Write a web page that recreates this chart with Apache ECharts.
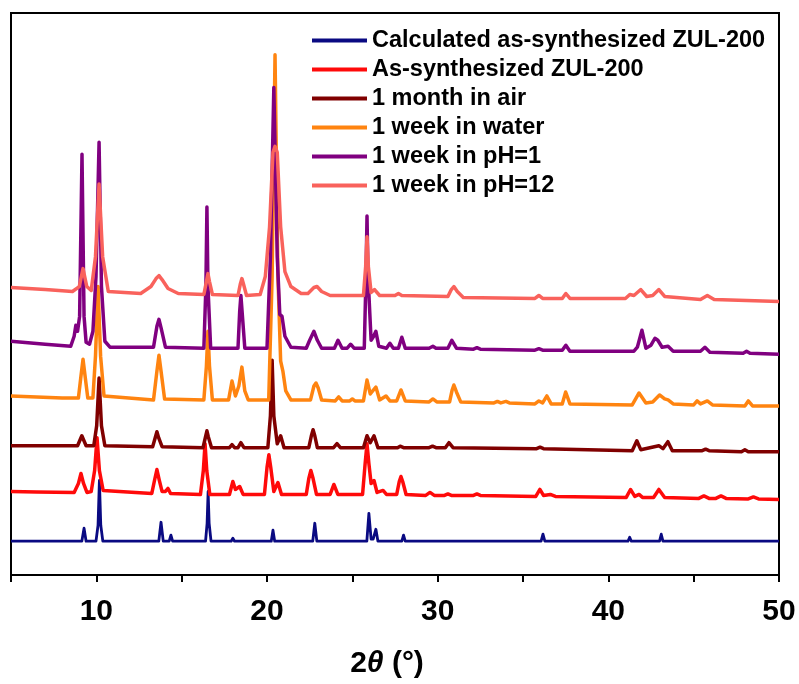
<!DOCTYPE html>
<html>
<head>
<meta charset="utf-8">
<title>PXRD patterns of ZUL-200</title>
<script src="https://cdn.jsdelivr.net/npm/echarts@6/dist/echarts.min.js"></script>
<style>
  html, body { margin: 0; padding: 0; background: #fff; }
  #chart { width: 799px; height: 684px; }
</style>
</head>
<body>
<div id="chart"></div>
<script>
// Series names, in stacking order (bottom to top)
const seriesNames = [
  'Calculated as-synthesized ZUL-200',
  'As-synthesized ZUL-200',
  '1 month in air',
  '1 week in water',
  '1 week in pH=1',
  '1 week in pH=12'
];

// Tick labels shown on the 2θ axis
const xTickLabels = [10, 20, 30, 40, 50];

// Each pattern: [2θ (deg), offset intensity (a.u.)]
const calculated = [
  [5,34],[9.15,34],[9.28,47],[9.4,34],
  [9.98,34],[10.1,50],[10.18,95],[10.26,50],[10.38,34],
  [13.66,34],[13.79,53],[13.92,34],
  [14.27,34],[14.37,40],[14.47,34],
  [16.4,34],[16.49,52],[16.55,84],[16.61,52],[16.72,34],
  [17.9,34],[18.0,37],[18.1,34],
  [18.5,34],[18.6,36],[18.7,34],
  [20.25,34],[20.35,45],[20.45,34],
  [21.0,34],[21.1,36],[21.2,34],
  [22.68,34],[22.8,52],[22.92,34],
  [24.9,34],[25.0,36],[25.1,34],
  [25.85,34],[25.97,62],[26.1,36],[26.22,36],[26.38,46],[26.5,34],
  [27.3,34],[27.4,36],[27.5,34],
  [27.9,34],[28.0,40],[28.1,34],
  [29.7,34],[29.8,35.5],[29.9,34],
  [33.25,34],[33.35,36],[33.45,34],
  [36.06,34],[36.17,41],[36.28,34],
  [36.6,34],[36.7,35.5],[36.8,34],
  [41.15,34],[41.25,38],[41.35,34],
  [41.8,34],[41.9,36],[42.0,34],
  [42.5,34],[42.6,35.5],[42.7,34],
  [43.0,34],[43.1,41],[43.2,34],
  [45.0,34],[45.1,36],[45.2,34],
  [46.5,34],[46.6,36],[46.7,34],
  [48.1,34],[48.2,36],[48.3,34],
  [50,34]
];

const asSynthesized = [
  [5,84],[6.5,83.5],[8.7,83],[8.95,92],[9.1,102],[9.25,92],[9.45,83],
  [9.7,84],[9.9,105],[10.04,138],[10.18,105],[10.4,85],
  [13.25,82],[13.42,96],[13.55,106],[13.68,96],[13.85,84],[14.05,84],[14.2,87],[14.35,82],
  [16.1,81],[16.27,105],[16.37,132],[16.47,105],[16.65,81],
  [17.8,81],[18.0,94],[18.15,86],[18.4,89],[18.6,81],
  [19.85,81],[20.0,108],[20.11,121],[20.22,108],[20.4,84],[20.64,93],[20.85,81],
  [22.3,81],[22.45,97],[22.57,105],[22.7,97],[22.9,81],
  [23.7,81],[23.92,91],[24.15,81],
  [25.6,81],[25.75,112],[25.86,132],[25.97,112],[26.1,92],[26.27,95],[26.45,83],[26.8,85],[27.0,81],
  [27.6,81],[27.75,94],[27.85,99],[27.95,94],[28.15,81],
  [29.3,80],[29.55,83],[29.8,80],
  [30.4,80],[30.6,81.5],[30.8,80],
  [32.1,80],[32.3,81.5],[32.5,80],
  [35.75,79],[35.99,86],[36.2,80],[36.6,81],[36.9,79],
  [41.05,78],[41.3,86],[41.55,79],[41.8,81],[42.0,78],
  [42.65,78],[42.96,86],[43.3,78],
  [45.3,77],[45.6,79.5],[45.9,77],
  [46.3,77],[46.6,79.5],[46.9,77],
  [48.2,76.5],[48.5,78.5],[48.8,76.5],
  [50,76]
];

const monthInAir = [
  [5,130],[8.9,130],[9.15,140],[9.4,130],
  [9.85,130],[10.02,150],[10.16,198],[10.3,150],[10.5,130],
  [13.3,129],[13.45,138],[13.55,144],[13.65,138],[13.85,129],
  [16.25,128],[16.4,139],[16.48,145],[16.56,139],[16.75,128],
  [17.8,128],[17.95,131],[18.1,128],
  [18.3,128],[18.47,133],[18.65,128],
  [20.05,128],[20.2,160],[20.3,216],[20.4,160],[20.6,132],[20.8,140],[21.0,128],
  [22.45,128],[22.6,140],[22.7,146],[22.8,140],[22.95,128],
  [23.9,128],[24.1,132],[24.3,128],
  [25.65,128],[25.86,140],[26.05,133],[26.27,140],[26.5,128],
  [26.9,128],[27.0,129.5],[27.2,128],
  [27.65,128],[27.8,129.5],[28.0,128],
  [29.5,128],[29.7,129.5],[29.9,128],
  [30.45,128],[30.66,133],[30.9,128],
  [35.8,127],[36.0,128.5],[36.2,127],
  [41.4,125],[41.67,135],[41.9,126],[42.96,130],[43.2,127],[43.49,134],[43.75,125],
  [45.5,125],[45.7,126.5],[45.9,125],
  [47.8,124],[48.0,126],[48.2,124],
  [50,124]
];

const weekInWater = [
  [5,180],[8.0,178],[8.95,178],[9.1,200],[9.22,217],[9.34,200],[9.5,178],
  [9.8,178],[9.95,220],[10.1,290],[10.25,220],[10.45,180],
  [13.35,176],[13.55,205],[13.67,221],[13.79,205],[14.0,177],
  [16.3,176],[16.45,210],[16.54,245],[16.63,210],[16.8,176],
  [17.75,176],[17.95,195],[18.15,180],[18.35,190],[18.53,209],[18.7,185],[18.9,176],
  [20.1,176],[20.3,300],[20.47,523],[20.64,300],[20.8,215],[20.93,205],[21.1,185],[21.4,176],
  [22.55,176],[22.75,190],[22.87,193],[23.0,188],[23.2,176],
  [24.0,175],[24.2,179],[24.4,175],
  [24.85,175],[25.0,177],[25.15,175],
  [25.65,175],[25.86,196],[26.05,182],[26.38,189],[26.6,176],[26.97,180],[27.2,175],
  [27.6,175],[27.85,186],[28.1,175],
  [29.5,174],[29.72,177],[29.95,174],
  [30.7,174],[30.85,186],[30.95,191],[31.1,184],[31.35,174],
  [33.3,173],[33.5,174.5],[33.7,173],[34.0,174.5],[34.2,173],
  [35.7,172],[35.93,175],[36.15,173],[36.4,180],[36.65,172],
  [37.3,172],[37.5,184],[37.75,172],
  [41.4,171],[41.8,183],[42.2,173],[42.6,174],[43.0,181],[43.3,177],[43.5,176],[43.8,172],
  [45.0,171],[45.2,175],[45.4,172],[45.8,175],[46.1,171],
  [48.0,170],[48.2,175],[48.45,170],
  [50,170]
];

const weekInPH1 = [
  [5,235],[7,232],[8.5,230],[8.7,240],[8.8,251],[8.9,245],[9.02,260],[9.16,423],[9.28,260],[9.4,234],
  [9.6,232],[9.8,245],[9.98,300],[10.16,435],[10.3,290],[10.5,235],[10.8,229],
  [13.35,229],[13.55,250],[13.67,257],[13.8,248],[14.05,229],
  [16.3,228],[16.42,290],[16.48,370],[16.54,290],[16.7,228],
  [18.3,228],[18.4,265],[18.47,281],[18.54,265],[18.7,228],
  [20.0,228],[20.2,320],[20.4,490],[20.6,320],[20.75,262],[20.88,260],[21.05,240],[21.4,229],
  [22.3,228],[22.5,236],[22.75,245],[22.95,236],[23.2,228],
  [23.95,228],[24.16,236],[24.4,228],
  [24.7,228],[24.9,232],[25.1,228],
  [25.7,228],[25.8,300],[25.86,361],[25.92,300],[26.1,236],[26.25,240],[26.38,245],[26.55,230],
  [27.0,228],[27.2,233],[27.4,228],
  [27.7,228],[27.9,239],[28.1,228],
  [29.5,228],[29.72,230],[29.9,228],
  [30.6,228],[30.83,236],[31.1,228],
  [32.1,227],[32.3,228.5],[32.5,227],
  [35.7,226],[35.93,227.5],[36.15,226],
  [37.3,226],[37.51,231],[37.75,225],
  [41.5,225],[41.7,229],[41.97,246],[42.2,228],[42.5,231],[42.73,238],[42.9,236],[43.15,229],[43.5,230],[43.8,225],
  [45.4,225],[45.66,229],[45.95,224],
  [47.9,223],[48.1,225],[48.3,223],
  [50,222]
];

const weekInPH12 = [
  [5,289],[7,287],[8.6,285],[9.0,290],[9.22,308],[9.44,290],[9.7,286],
  [9.95,320],[10.16,393],[10.37,320],[10.7,285],
  [12.6,283],[13.2,290],[13.5,298],[13.67,301],[13.85,297],[14.2,288],[14.8,283],
  [16.3,282],[16.45,295],[16.54,303],[16.63,295],[16.8,282],
  [18.3,281],[18.43,292],[18.53,298],[18.63,292],[18.8,281],
  [19.6,282],[19.9,300],[20.15,350],[20.35,425],[20.47,431],[20.6,425],[20.8,350],[21.05,305],[21.4,290],[22.0,283],
  [22.4,283],[22.75,289],[22.93,290],[23.2,285],[23.7,281],
  [25.65,281],[25.78,310],[25.86,340],[25.94,310],[26.1,284],[26.3,287],[26.6,281],
  [27.5,281],[27.7,283],[27.9,281],
  [30.6,280],[30.8,287],[30.95,290],[31.15,285],[31.5,279],
  [35.7,278],[35.93,281],[36.15,278],
  [37.3,278],[37.51,283],[37.75,278],
  [41.0,278],[41.26,282],[41.5,281],[41.9,287],[42.25,280],[42.6,281],[42.96,287],[43.3,280],
  [45.4,277],[45.8,281],[46.2,277],
  [50,275]
];

const patterns = [calculated, asSynthesized, monthInAir, weekInWater, weekInPH1, weekInPH12];
const colors = ['#0A0A82', '#FF0A0A', '#800000', '#FF8410', '#800080', '#F9625C'];
const widths = [2.8, 3.5, 3.5, 3.5, 3.5, 3.5];

const FONT = '"Liberation Sans", Arial, sans-serif';

const chart = echarts.init(document.getElementById('chart'), null, { renderer: 'canvas' });

chart.setOption({
  animation: false,
  backgroundColor: '#ffffff',
  grid: {
    left: 11, right: 20, top: 13, bottom: 106,
    show: true, borderColor: '#000', borderWidth: 2
  },
  legend: {
    orient: 'vertical',
    left: 312, top: 28,
    padding: 0,
    icon: 'rect',
    itemWidth: 55, itemHeight: 4, itemGap: 4,
    data: seriesNames,
    textStyle: { fontFamily: FONT, fontWeight: 'bold', fontSize: 23.5, color: '#000', lineHeight: 25 }
  },
  xAxis: {
    type: 'value',
    min: 5, max: 50, interval: 5,
    name: '2{i|θ} (°)',
    nameLocation: 'middle',
    nameGap: 74,
    nameTextStyle: {
      fontFamily: FONT, fontWeight: 'bold', fontSize: 30, color: '#000',
      padding: [0, 16, 0, 0],
      rich: { i: { fontFamily: FONT, fontWeight: 'bold', fontStyle: 'italic', fontSize: 30, color: '#000' } }
    },
    axisLine: { lineStyle: { color: '#000', width: 2 } },
    axisTick: { show: true, inside: false, length: 7, lineStyle: { color: '#000', width: 2 } },
    axisLabel: {
      margin: 22,
      fontFamily: FONT, fontWeight: 'bold', fontSize: 30, color: '#000',
      formatter: v => (xTickLabels.indexOf(v) >= 0 ? String(v) : '')
    },
    splitLine: { show: false }
  },
  yAxis: {
    type: 'value',
    min: 0, max: 565,
    axisLine: { show: true, lineStyle: { color: '#000', width: 2 } },
    axisTick: { show: false },
    axisLabel: { show: false },
    splitLine: { show: false }
  },
  series: patterns.map((d, i) => ({
    name: seriesNames[i],
    type: 'line',
    data: d,
    showSymbol: false,
    symbol: 'none',
    color: colors[i],
    lineStyle: { color: colors[i], width: widths[i], join: 'round' },
    z: 2 + i
  }))
});
</script>
</body>
</html>
